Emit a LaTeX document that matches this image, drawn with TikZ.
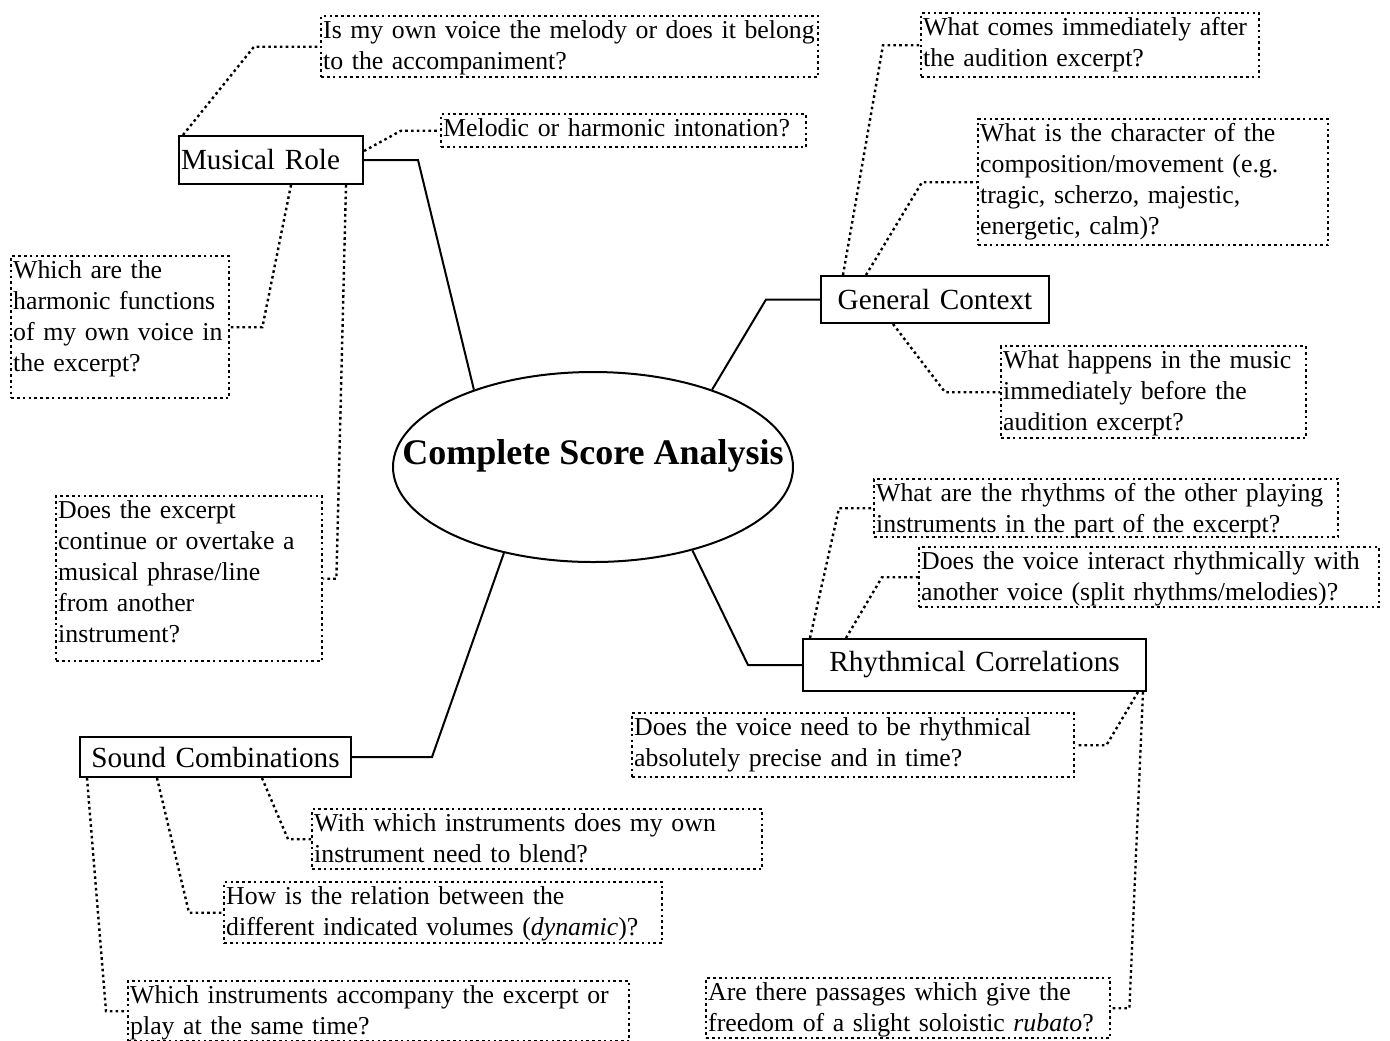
\documentclass[tikz,border=0pt]{standalone}
\usepackage{fontspec}
\setmainfont{Liberation Serif}
\usetikzlibrary{shapes.geometric, positioning}

% lines of a question, kept as they are
\newcommand{\qtext}[1]{\begin{tabular}[t]{@{}l@{}}#1\end{tabular}}

\begin{document}
\begin{tikzpicture}[x=0.5pt, y=-0.5pt,
            core/.style={draw, ellipse, line width=1pt, minimum width=200pt,
                    minimum height=95pt, inner sep=0pt,
                    font=\fontsize{18pt}{21pt}\selectfont\bfseries},
            topic/.style={draw, line width=1pt, anchor=north west,
                    inner xsep=1pt, inner ysep=0pt,
                    font=\fontsize{14.6pt}{17pt}\selectfont},
            question/.style={draw, line width=1.2pt, dash pattern=on 1.3pt off 1.6pt,
                    anchor=north west, inner sep=1pt, text height=10pt,
                    font=\fontsize{12.9pt}{15.5pt}\selectfont},
            branch/.style={line width=1pt},
            twig/.style={line width=1.2pt, dash pattern=on 1.3pt off 1.6pt},
        ]
        \useasboundingbox (0,0) rectangle (1390,1040);

        \node[core] (core) at (593,467)
            {\makebox[0pt]{\raisebox{1.5pt}[0pt][0pt]{Complete Score Analysis}}};

        \node[topic, text width=90pt, minimum height=24pt, align=left] (role) at (178,135) {Musical Role};
        \node[topic, text width=112pt, minimum height=23.5pt, align=center] (context) at (820,275) {General Context};
        \node[topic, text width=169.5pt, minimum height=26pt, align=center] (rhythm) at (802,638) {Rhythmical Correlations};
        \node[topic, text width=133.5pt, minimum height=20pt, align=center] (sound) at (79,736) {Sound Combinations};

        % questions of the musical role
        \node[question, text width=246.5pt, text depth=18.5pt] (voice) at (320,15)
            {\qtext{Is my own voice the melody or does it belong\\to the accompaniment?}};
        \node[question, text width=180.5pt, text depth=4.5pt] (tuning) at (440,113)
            {\qtext{Melodic or harmonic intonation?}};
        \node[question, text width=107pt, text depth=59pt] (harmony) at (10,255)
            {\qtext{Which are the\\harmonic functions\\of my own voice in\\the excerpt?}};
        \node[question, text width=131pt, text depth=70.5pt] (phrase) at (55,495)
            {\qtext{Does the excerpt\\continue or overtake a\\musical phrase/line\\from another\\instrument?}};

        % questions of the general context
        \node[question, text width=167pt, text depth=20pt] (after) at (920,12)
            {\qtext{What comes immediately after\\the audition excerpt?}};
        \node[question, text width=173pt, text depth=51pt] (character) at (977,118)
            {\qtext{What is the character of the\\composition/movement (e.g.\\tragic, scherzo, majestic,\\energetic, calm)?}};
        \node[question, text width=150.5pt, text depth=34pt] (before) at (1000,345)
            {\qtext{What happens in the music\\immediately before the\\audition excerpt?}};

        % questions of the rhythmical correlations
        \node[question, text width=230pt, text depth=17pt] (others) at (873,478)
            {\qtext{What are the rhythms of the other playing\\instruments in the part of the excerpt?}};
        \node[question, text width=228pt, text depth=18pt] (interact) at (918,546)
            {\qtext{Does the voice interact rhythmically with\\another voice (split rhythms/melodies)?}};
        \node[question, text width=219pt, text depth=20pt] (precise) at (631,712)
            {\qtext{Does the voice need to be rhythmical\\absolutely precise and in time?}};
        \node[question, text width=200pt, text depth=18pt] (rubato) at (705,977)
            {\qtext{Are there passages which give the\\freedom of a slight soloistic \emph{rubato}?}};

        % questions of the sound combinations
        \node[question, text width=223pt, text depth=18pt] (blend) at (311,808)
            {\qtext{With which instruments does my own\\instrument need to blend?}};
        \node[question, text width=217pt, text depth=18.5pt] (dynamics) at (223,881)
            {\qtext{How is the relation between the\\different indicated volumes (\emph{dynamic})?}};
        \node[question, text width=248.5pt, text depth=18pt] (accompany) at (127,980)
            {\qtext{Which instruments accompany the excerpt or\\play at the same time?}};

        % branches to the centre
        \draw[branch] (role.east) -- ++(27pt,0) -- (core.147);
        \draw[branch] (context.west) -- ++(-27pt,0) -- (core.33);
        \draw[branch] (rhythm.west) -- ++(-27pt,0) -- (core.-40);
        \draw[branch] (sound.east) -- ++(40pt,0) -- (core.224);

        % twigs to the questions
        \draw[twig] ([xshift=2.5pt]role.north west) -- ([xshift=-33pt]voice.west) -- (voice.west);
        \draw[twig] ([yshift=4.5pt]role.east) -- ([xshift=-19.5pt]tuning.west) -- (tuning.west);
        \draw[twig] ([xshift=56.5pt]role.south west) -- ([xshift=16pt]harmony.east) -- (harmony.east);
        \draw[twig] ([xshift=84pt]role.south west) -- ([xshift=6.5pt]phrase.east) -- (phrase.east);

        \draw[twig] ([xshift=11.5pt]context.north west) -- ([xshift=-18.5pt]after.west) -- (after.west);
        \draw[twig] ([xshift=23pt]context.north west) -- ([xshift=-27.5pt]character.west) -- (character.west);
        \draw[twig] ([xshift=36.5pt]context.south west) -- ([xshift=-27.5pt]before.west) -- (before.west);

        \draw[twig] ([xshift=4pt]rhythm.north west) -- ([xshift=-17pt]others.west) -- (others.west);
        \draw[twig] ([xshift=22pt]rhythm.north west) -- ([xshift=-18pt]interact.west) -- (interact.west);
        \draw[twig] ([xshift=-4.5pt]rhythm.south east) -- ([xshift=15.5pt]precise.east) -- (precise.east);
        \draw[twig] ([xshift=-2pt]rhythm.south east) -- ([xshift=9pt]rubato.east) -- (rubato.east);

        \draw[twig] ([xshift=91.5pt]sound.south west) -- ([xshift=-11.5pt]blend.west) -- (blend.west);
        \draw[twig] ([xshift=39pt]sound.south west) -- ([xshift=-17pt]dynamics.west) -- (dynamics.west);
        \draw[twig] ([xshift=4pt]sound.south west) -- ([xshift=-10.5pt]accompany.west) -- (accompany.west);

    \end{tikzpicture}
\end{document}
